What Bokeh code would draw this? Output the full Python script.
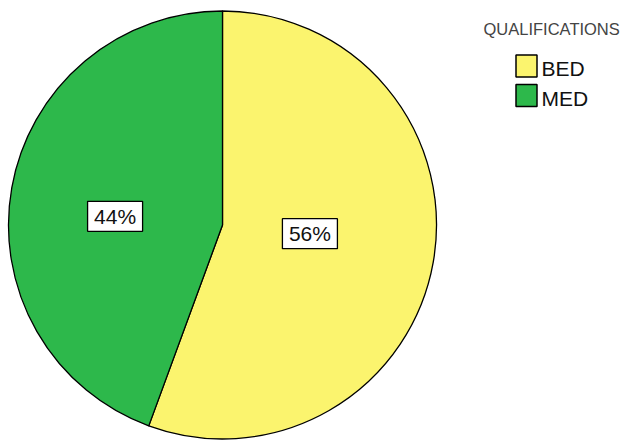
import math
from bokeh.plotting import figure
from bokeh.models import ColumnDataSource, Range1d
from bokeh.core.properties import value
from bokeh.embed import file_html
from bokeh.resources import INLINE

# ---- data ----
categories = ["BED", "MED"]
shares = [55.6, 44.4]
colors = ["#FBF46E", "#2DB84B"]
legend_title = "QUALIFICATIONS"

W, H = 624, 442
p = figure(width=W, height=H, output_backend="svg", toolbar_location=None,
           x_axis_type=None, y_axis_type=None, min_border=0,
           x_range=Range1d(0, W), y_range=Range1d(0, H))
p.grid.visible = False
p.outline_line_color = None
p.background_fill_color = "white"
p.border_fill_color = "white"

# pie geometry (screen px within figure)
cx, cy, R = 222, H - 224.5, 214

total = sum(shares)
starts, ends, mids = [], [], []
acc = 0.0
for s in shares:
    a0 = math.pi / 2 - 2 * math.pi * acc / total
    acc += s
    a1 = math.pi / 2 - 2 * math.pi * acc / total
    starts.append(a0)
    ends.append(a1)
    mids.append((a0 + a1) / 2)

src = ColumnDataSource(dict(cat=categories, start=starts, end=ends, color=colors))
p.wedge(x=cx, y=cy, radius=R, start_angle="start", end_angle="end",
        direction="clock", fill_color="color", line_color="black",
        line_width=1.3, source=src)

# percentage labels (placed along slice mid-angle)
lab_r = 0.457 * R
lab_rot = math.radians(5)
lab_cx = cx - 10
lx = [lab_cx + lab_r * math.cos(m + lab_rot) for m in mids]
ly = [cy + lab_r * math.sin(m + lab_rot) for m in mids]
labels = ["%d%%" % round(100 * s / total) for s in shares]
lsrc = ColumnDataSource(dict(x=lx, y=ly, t=labels))
p.rect(x="x", y="y", width=55, height=30, fill_color="white",
       line_color="black", line_width=1.3, source=lsrc)
p.text(x="x", y="y", text="t", text_align="center", text_baseline="middle",
       text_font=value("Liberation Sans"), text_font_size="21px",
       text_color="#111111", source=lsrc)

# legend (manual)
lg_x, lg_top, pitch = 526, H - 65.5, 29.5
sw_y = [lg_top - i * pitch for i in range(len(categories))]
gsrc = ColumnDataSource(dict(x=[lg_x] * len(categories), y=sw_y,
                             ty=[y - 2.5 for y in sw_y], t=categories, color=colors))
p.rect(x="x", y="y", width=21, height=22, fill_color="color",
       line_color="black", line_width=1.5, source=gsrc)
p.text(x=lg_x + 15, y="ty", text="t", text_align="left", text_baseline="alphabetic",
       text_font=value("Liberation Sans"), text_font_size="21px",
       text_color="#111111", source=gsrc)
p.text(x=[483], y=[H - 28.5], text=[legend_title], text_align="left",
       text_baseline="alphabetic", text_font=value("Liberation Sans"),
       text_font_size="16.5px", text_color="#444444")

open("out.html", "w").write(file_html(p, INLINE))
